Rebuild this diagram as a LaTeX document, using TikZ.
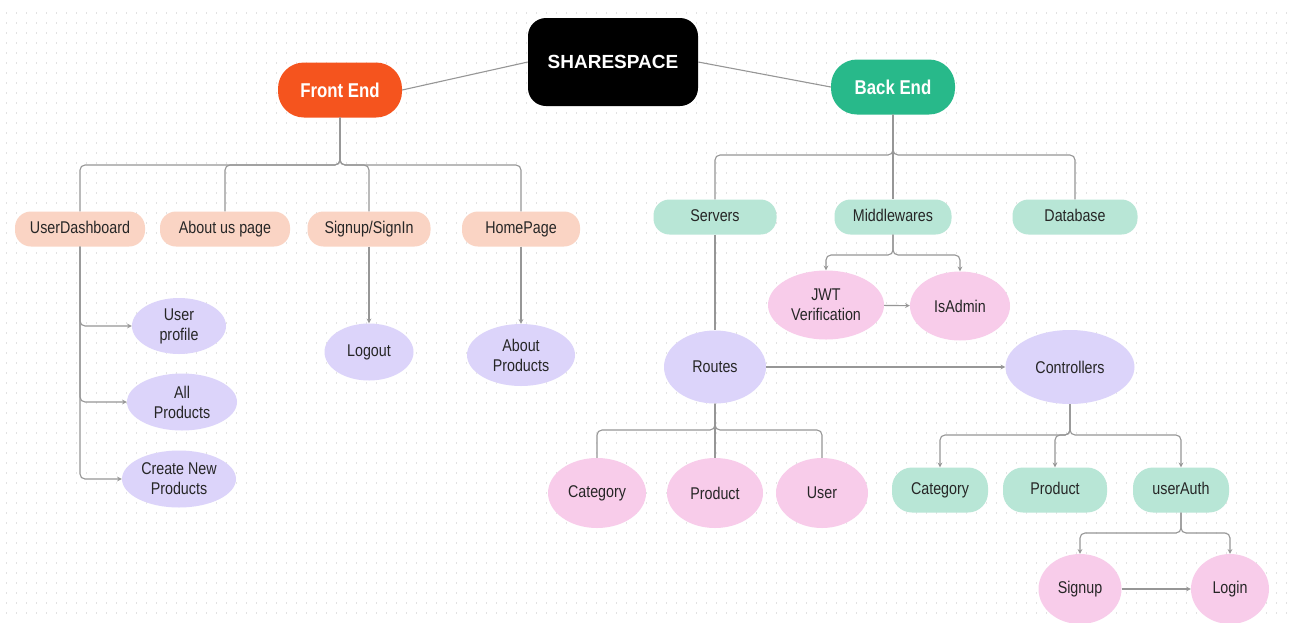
\documentclass[tikz,border=0pt]{standalone}
\usepackage{fontspec}
\setmainfont{Liberation Sans}
\newfontfamily\narrowfont[FakeStretch=0.84]{Liberation Sans}
\usetikzlibrary{shapes.geometric}

\definecolor{frontorange}{RGB}{245,84,30}
\definecolor{backgreen}{RGB}{40,185,138}
\definecolor{peach}{RGB}{250,212,196}
\definecolor{lavender}{RGB}{220,212,250}
\definecolor{mint}{RGB}{184,230,214}
\definecolor{pinkish}{RGB}{248,204,234}
\definecolor{linegray}{RGB}{150,150,150}
\definecolor{dotgray}{RGB}{226,226,226}

\tikzset{
  every hub/.style={rounded corners=18pt, fill=black, text=white, minimum width=170pt, minimum height=88pt, font=\bfseries\fontsize{19}{22}\selectfont},
  every side/.style={rounded corners=26pt, text=white, minimum width=124pt, minimum height=55pt, font=\narrowfont\bfseries\fontsize{20}{22}\selectfont},
  every tag/.style={rounded corners=16pt, minimum height=35pt, inner sep=0pt, text height=12pt, text depth=3.5pt, text=black!85, font=\narrowfont\fontsize{17}{20}\selectfont},
  every pill/.style={rounded corners=20pt, fill=mint, minimum height=45pt, inner sep=0pt, text height=12pt, text depth=3.5pt, text=black!85, font=\narrowfont\fontsize{17}{20}\selectfont},
  every blob/.style={ellipse, inner sep=0pt, align=center, text=black!85, font=\narrowfont\fontsize{17}{20}\selectfont},
  link/.style={draw=linegray, line width=1.1pt, rounded corners=5pt},
  dotrow/.style={draw=dotgray, line width=1.3pt, dash pattern=on 1.3pt off 8.7pt}
}

\begin{document}
\begin{tikzpicture}[x=1pt, y=1pt, >=stealth]
  \useasboundingbox[fill=white] (0,0) rectangle (1291,-622);

  % dotted paper
  \foreach \r in {0,...,60}
    \draw [dotrow] (6,-13-\r*10) -- (1288,-13-\r*10);

  % top level
  \node [every hub/.try] (sharespace) at (613,-62) {SHARESPACE};
  \node [every side/.try, fill=frontorange] (front) at (340,-90) {Front End};
  \node [every side/.try, fill=backgreen] (back) at (893,-87) {Back End};
  \draw [link] (sharespace.west) -- (front.east);
  \draw [link] (sharespace.east) -- (back.west);

  % front end
  \foreach \m/\x/\w/\t in {dash/80/130/UserDashboard, about/225/130/About us page, sign/369/123/{Signup/SignIn}, home/521/118/HomePage}
    \node [every tag/.try, fill=peach, minimum width=\w pt] (front-\m) at (\x,-229) {\t};

  \coordinate (front-bus) at (340,-165);
  \foreach \m in {dash,about,sign,home}
    \draw [link] (front) -- (front-bus) -| (front-\m);

  \node [every blob/.try, fill=lavender, minimum width=94pt, minimum height=56pt] (profile) at (179,-326) {User\\profile};
  \node [every blob/.try, fill=lavender, minimum width=110pt, minimum height=57pt] (all) at (182,-402) {All\\Products};
  \node [every blob/.try, fill=lavender, minimum width=114pt, minimum height=57pt] (create) at (179,-479) {Create New\\Products};
  \node [every blob/.try, fill=lavender, minimum width=89pt, minimum height=57pt] (logout) at (369,-352) {Logout};
  \node [every blob/.try, fill=lavender, minimum width=108pt, minimum height=62pt] (aboutprod) at (521,-355) {About\\Products};

  \foreach \j in {profile,all,create}
    \draw [link, ->] (front-dash) |- (\j);
  \draw [link, ->] (front-sign) -- (logout);
  \draw [link, ->] (front-home) -- (aboutprod);

  % back end
  \foreach \m/\x/\w/\t in {serv/715/123/Servers, mid/893/117/Middlewares, data/1075/125/Database}
    \node [every tag/.try, fill=mint, minimum width=\w pt] (back-\m) at (\x,-217) {\t};

  \coordinate (back-bus) at (893,-155);
  \foreach \m in {serv,mid,data}
    \draw [link] (back) -- (back-bus) -| (back-\m);

  \node [every blob/.try, fill=pinkish, minimum width=116pt, minimum height=69pt] (jwt) at (826,-305) {JWT\\Verification};
  \node [every blob/.try, fill=pinkish, minimum width=100pt, minimum height=69pt] (isadmin) at (960,-306) {IsAdmin};
  \coordinate (mid-bus) at (893,-255);
  \foreach \j in {jwt,isadmin}
    \draw [link, ->] (back-mid) -- (mid-bus) -| (\j);
  \draw [link, ->] (jwt) -- (isadmin);

  \node [every blob/.try, fill=lavender, minimum width=102pt, minimum height=73pt] (routes) at (715,-367) {Routes};
  \node [every blob/.try, fill=lavender, minimum width=129pt, minimum height=74pt] (controllers) at (1070,-367) {Controllers};
  \draw [link] (back-serv) -- (routes);
  \draw [link, ->] (routes) -- (controllers);

  % routes
  \foreach \m/\x/\w/\t in {cat/597/98/Category, prod/715/96/Product, user/822/92/User}
    \node [every blob/.try, fill=pinkish, minimum width=\w pt, minimum height=70pt] (route-\m) at (\x,-493) {\t};
  \coordinate (route-bus) at (715,-430);
  \foreach \m in {cat,prod,user}
    \draw [link] (routes) -- (route-bus) -| (route-\m);

  % controllers
  \foreach \m/\x/\w/\t in {cat/940/96/Category, prod/1055/104/Product, auth/1181/96/userAuth}
    \node [every pill/.try, minimum width=\w pt] (ctrl-\m) at (\x,-490) {\t};
  \coordinate (ctrl-bus) at (1070,-435);
  \foreach \m in {cat,prod,auth}
    \draw [link, ->] (controllers) -- (ctrl-bus) -| (ctrl-\m);

  \node [every blob/.try, fill=pinkish, minimum width=83pt, minimum height=70pt] (signup) at (1080,-589) {Signup};
  \node [every blob/.try, fill=pinkish, minimum width=78pt, minimum height=70pt] (login) at (1230,-589) {Login};
  \coordinate (auth-bus) at (1181,-533);
  \foreach \j in {signup,login}
    \draw [link, ->] (ctrl-auth) -- (auth-bus) -| (\j);
  \draw [link, ->] (signup) -- (login);

\end{tikzpicture}
\end{document}
